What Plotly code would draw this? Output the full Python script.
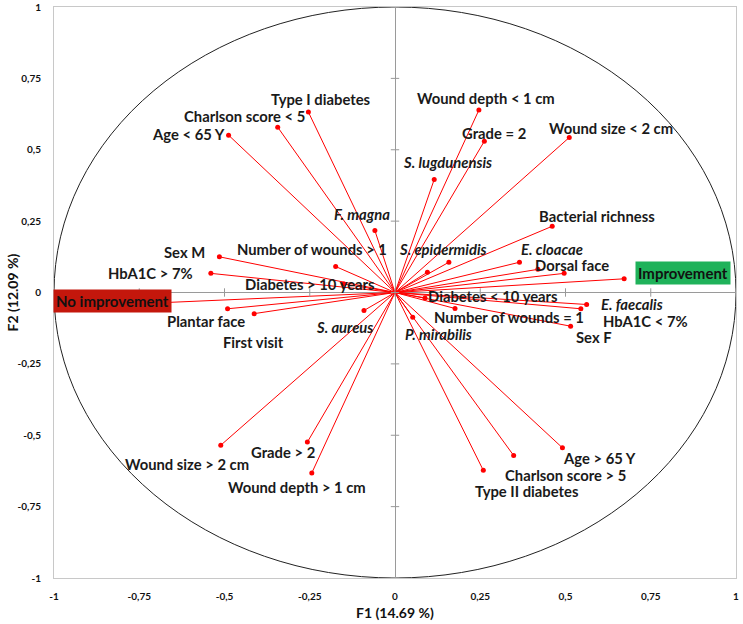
import plotly.graph_objects as go

# variable coordinates on the first two factors
names = ["Type I diabetes", "Charlson score < 5", "Age < 65 Y", "<i>F. magna</i>", "Sex M",
         "HbA1C > 7%", "Number of wounds > 1", "Diabetes > 10 years", "No improvement",
         "Plantar face", "First visit", "<i>S. aureus</i>", "Wound size > 2 cm", "Grade > 2",
         "Wound depth > 1 cm", "Wound depth < 1 cm", "Grade = 2", "Wound size < 2 cm",
         "<i>S. lugdunensis</i>", "Bacterial richness", "<i>S. epidermidis</i>", "<i>E. cloacae</i>",
         "Dorsal face", "Improvement", "Diabetes < 10 years", "<i>E. faecalis</i>", "HbA1C < 7%",
         "Sex F", "Number of wounds = 1", "<i>P. mirabilis</i>", "Age > 65 Y",
         "Charlson score > 5", "Type II diabetes"]
f1 = [-0.254, -0.344, -0.488, -0.059, -0.515,
      -0.540, -0.174, -0.150, -0.670,
      -0.491, -0.413, -0.091, -0.511, -0.257,
      -0.244, 0.246, 0.262, 0.511,
      0.115, 0.461, 0.158, 0.365,
      0.496, 0.672, 0.088, 0.562, 0.545,
      0.515, 0.176, 0.052, 0.491,
      0.348, 0.259]
f2 = [0.632, 0.579, 0.551, 0.217, 0.125,
      0.067, 0.091, 0.030, -0.035,
      -0.057, -0.074, -0.063, -0.535, -0.524,
      -0.632, 0.639, 0.530, 0.543,
      0.396, 0.232, 0.106, 0.106,
      0.067, 0.048, -0.019, -0.042, -0.057,
      -0.118, -0.056, -0.087, -0.544,
      -0.571, -0.623]

# points drawn without a label
extra_f1 = [0.095, 0.419]
extra_f2 = [0.071, 0.081]

tick_vals = [-1, -0.75, -0.5, -0.25, 0, 0.25, 0.5, 0.75, 1]
tick_text = ["-1", "-0,75", "-0,5", "-0,25", "0", "0,25", "0,5", "0,75", "1"]

# label centre offsets from the point, in screen pixels (dx right, dy down)
label_offsets = {
    "Type I diabetes": (13, -13), "Charlson score < 5": (-33, -11), "Age < 65 Y": (-40, -1),
    "<i>F. magna</i>": (-13, -17), "Sex M": (-35, -5), "HbA1C > 7%": (-60, 0),
    "Number of wounds > 1": (-24, -18), "Diabetes > 10 years": (-34, 0),
    "Plantar face": (-22, 12), "First visit": (-1, 28), "<i>S. aureus</i>": (-19, 17),
    "Wound size > 2 cm": (-34, 19), "Grade > 2": (-24, 10), "Wound depth > 1 cm": (-15, 14),
    "Wound depth < 1 cm": (7, -12), "Grade = 2": (10, -8), "Wound size < 2 cm": (42, -9),
    "<i>S. lugdunensis</i>": (13, -17), "Bacterial richness": (45, -10),
    "<i>S. epidermidis</i>": (-6, -13), "<i>E. cloacae</i>": (33, -13), "Dorsal face": (8, -8),
    "Diabetes < 10 years": (68, -2), "<i>E. faecalis</i>": (45, 0), "HbA1C < 7%": (65, 12),
    "Sex F": (23, 11), "Number of wounds = 1": (54, 9), "<i>P. mirabilis</i>": (26, 17),
    "Age > 65 Y": (37, 10), "Charlson score > 5": (52, 19), "Type II diabetes": (44, 21),
}
box_labels = {"No improvement": ((-54, -1), "#c4170c"), "Improvement": ((59, -6), "#1fb25a")}

all_x = f1 + extra_f1
all_y = f2 + extra_f2
line_x, line_y = [], []
for x, y in zip(all_x, all_y):
    line_x += [0, x, None]
    line_y += [0, y, None]

fig = go.Figure()
fig.add_shape(type="circle", x0=-1, y0=-1, x1=1, y1=1, line=dict(color="#222222", width=1), layer="below")
fig.add_trace(go.Scatter(x=line_x, y=line_y, mode="lines", line=dict(color="#ff0000", width=1),
                         hoverinfo="skip"))
fig.add_trace(go.Scatter(x=all_x, y=all_y, mode="markers", marker=dict(color="#ff0000", size=5)))
# small tick marks on the zero axes
fig.add_trace(go.Scatter(x=[0] * len(tick_vals), y=tick_vals, mode="markers",
                         marker=dict(symbol="line-ew", size=6, line=dict(color="#999999", width=1))))
fig.add_trace(go.Scatter(x=tick_vals, y=[0] * len(tick_vals), mode="markers",
                         marker=dict(symbol="line-ns", size=6, line=dict(color="#999999", width=1))))

font_name = "Lato"
for name, x, y in zip(names, f1, f2):
    if name in box_labels:
        (dx, dy), col = box_labels[name]
        fig.add_annotation(x=x, y=y, text="<b>%s</b>" % name, showarrow=False, xshift=dx, yshift=-dy,
                           bgcolor=col, borderpad=2, font=dict(family=font_name, size=15, color="#111111"))
        continue
    dx, dy = label_offsets[name]
    fig.add_annotation(x=x, y=y, text="<b>%s</b>" % name, showarrow=False, xshift=dx, yshift=-dy,
                       font=dict(family=font_name, size=14.8, color="#1a1a1a"))

# axis titles
fig.add_annotation(x=0.5, y=0, xref="paper", yref="paper", yshift=-34, yanchor="middle",
                   text="<b>F1 (14.69 %)</b>", showarrow=False,
                   font=dict(family=font_name, size=14, color="#111111"))
fig.add_annotation(x=0, y=0.5, xref="paper", yref="paper", xshift=-42, xanchor="center",
                   text="<b>F2 (12.09 %)</b>", showarrow=False, textangle=-90,
                   font=dict(family=font_name, size=14, color="#111111"))

axis_common = dict(range=[-1, 1], tickvals=tick_vals, ticktext=["<b>%s</b>" % t for t in tick_text],
                   showgrid=False, automargin=False,
                   zeroline=True, zerolinecolor="#9a9a9a", zerolinewidth=1,
                   showline=True, linecolor="#c8c8c8", linewidth=1, mirror=True, ticks="",
                   tickfont=dict(family=font_name, size=10, color="#111111"))

fig.update_layout(
    width=743, height=624,
    margin=dict(l=54, r=7, t=7, b=46),
    paper_bgcolor="white", plot_bgcolor="white",
    showlegend=False,
    xaxis=dict(axis_common, ticklabelstandoff=9),
    yaxis=dict(axis_common, ticklabelstandoff=10),
)

fig.write_html("out.html", config={"displayModeBar": False},
               post_script="document.body.style.margin='0';")
